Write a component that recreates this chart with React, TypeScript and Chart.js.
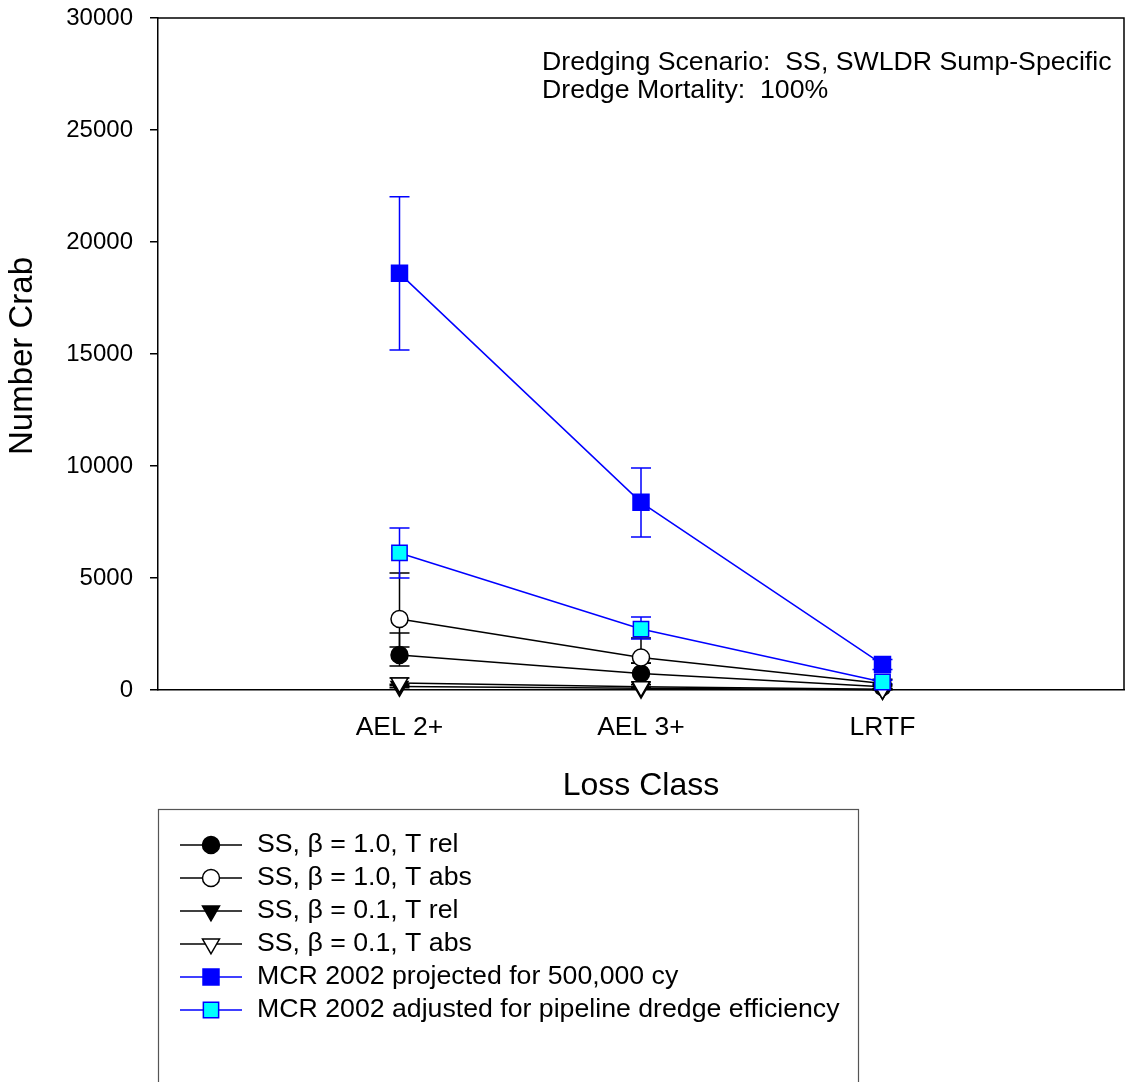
import React, { useEffect, useRef } from "react";
import { Chart, registerables } from "chart.js";
Chart.register(...registerables);

// ---- data ----
const categories = ["AEL 2+", "AEL 3+", "LRTF"];
const yTickValues = [0, 5000, 10000, 15000, 20000, 25000, 30000];
const seriesNames = [
  "SS, \u03B2 = 1.0, T rel",
  "SS, \u03B2 = 1.0, T abs",
  "SS, \u03B2 = 0.1, T rel",
  "SS, \u03B2 = 0.1, T abs",
  "MCR 2002 projected for 500,000 cy",
  "MCR 2002 adjusted for pipeline dredge efficiency",
];

const b10Rel = [1560, 740, 140];
const b10RelHi = [2545, 1190, 230];
const b10RelLo = [1071, 357, 70];

const b10Abs = [3170, 1450, 290];
const b10AbsHi = [5220, 2320, 480];
const b10AbsLo = [1920, 1205, 175];

const b01Rel = [156, 74, 14];
const b01RelHi = [255, 120, 23];
const b01RelLo = [105, 45, 9];

const b01Abs = [317, 145, 29];
const b01AbsHi = [536, 235, 48];
const b01AbsLo = [190, 90, 18];

const mcrProj = [18600, 8380, 1140];
const mcrProjHi = [22020, 9910, 1360];
const mcrProjLo = [15180, 6830, 920];

const mcrAdj = [6120, 2720, 357];
const mcrAdjHi = [7230, 3260, 440];
const mcrAdjLo = [5000, 2280, 275];

const annotationLines = [
  "Dredging Scenario:  SS, SWLDR Sump-Specific",
  "Dredge Mortality:  100%",
];
const xTitle = "Loss Class";
const yTitle = "Number Crab";

const FONT = "'Liberation Sans', Arial, Helvetica, sans-serif";
const BLUE = "#0000ff";
const CYAN = "#00ffff";

const toPts = (arr: number[]) => arr.map((v, i) => ({ x: i + 1, y: v }));

type Style = {
  pointStyle: string;
  rotation: number;
  radius: number;
  fill: string;
  stroke: string;
};

const styles: Style[] = [
  { pointStyle: "circle", rotation: 0, radius: 8.5, fill: "#000000", stroke: "#000000" },
  { pointStyle: "circle", rotation: 0, radius: 8.5, fill: "#ffffff", stroke: "#000000" },
  { pointStyle: "triangle", rotation: 180, radius: 9.8, fill: "#000000", stroke: "#000000" },
  { pointStyle: "triangle", rotation: 180, radius: 9.8, fill: "#ffffff", stroke: "#000000" },
  { pointStyle: "rect", rotation: 0, radius: 11.3, fill: BLUE, stroke: BLUE },
  { pointStyle: "rect", rotation: 0, radius: 10.8, fill: CYAN, stroke: BLUE },
];

const values = [b10Rel, b10Abs, b01Rel, b01Abs, mcrProj, mcrAdj];
const highs = [b10RelHi, b10AbsHi, b01RelHi, b01AbsHi, mcrProjHi, mcrAdjHi];
const lows = [b10RelLo, b10AbsLo, b01RelLo, b01AbsLo, mcrProjLo, mcrAdjLo];
const orders = [5, 4, 3, 2, 1, 0];

function drawMarker(ctx: CanvasRenderingContext2D, s: Style, r: number, x: number, y: number) {
  ctx.beginPath();
  if (s.pointStyle === "circle") {
    ctx.arc(x, y, r, 0, Math.PI * 2);
  } else if (s.pointStyle === "triangle") {
    for (let k = 0; k < 3; k++) {
      const ang = Math.PI + (k * 2 * Math.PI) / 3;
      const px = x + Math.sin(ang) * r;
      const py = y - Math.cos(ang) * r;
      if (k === 0) ctx.moveTo(px, py);
      else ctx.lineTo(px, py);
    }
    ctx.closePath();
  } else {
    const h = r * Math.SQRT1_2;
    ctx.rect(x - h, y - h, 2 * h, 2 * h);
  }
  ctx.fillStyle = s.fill;
  ctx.fill();
  ctx.strokeStyle = s.stroke;
  ctx.lineWidth = 1.5;
  ctx.stroke();
}

const errorBarPlugin = {
  id: "errorBars",
  beforeDatasetsDraw(chart: any) {
    const ctx = chart.ctx;
    const xs = chart.scales.x;
    const ys = chart.scales.y;
    ctx.save();
    for (let d = 0; d < values.length; d++) {
      ctx.strokeStyle = styles[d].stroke;
      ctx.lineWidth = 1.5;
      for (let i = 0; i < values[d].length; i++) {
        const x = xs.getPixelForValue(i + 1);
        const yh = ys.getPixelForValue(highs[d][i]);
        const yl = ys.getPixelForValue(lows[d][i]);
        ctx.beginPath();
        ctx.moveTo(x, yh);
        ctx.lineTo(x, yl);
        ctx.moveTo(x - 10, yh);
        ctx.lineTo(x + 10, yh);
        ctx.moveTo(x - 10, yl);
        ctx.lineTo(x + 10, yl);
        ctx.stroke();
      }
    }
    ctx.restore();
  },
};

const decorPlugin = {
  id: "decor",
  afterDraw(chart: any) {
    const ctx = chart.ctx;
    const a = chart.chartArea;
    ctx.save();
    // frame top & right
    ctx.strokeStyle = "#000";
    ctx.lineWidth = 1.5;
    ctx.beginPath();
    ctx.moveTo(a.left, a.top);
    ctx.lineTo(a.right, a.top);
    ctx.lineTo(a.right, a.bottom);
    ctx.stroke();

    // annotation
    ctx.fillStyle = "#000";
    ctx.font = `26.7px ${FONT}`;
    ctx.textAlign = "left";
    ctx.textBaseline = "middle";
    annotationLines.forEach((t, i) => ctx.fillText(t, 542, 63 + i * 28));

    // axis titles
    ctx.font = `32px ${FONT}`;
    ctx.textAlign = "center";
    ctx.fillText(xTitle, 641, 786);
    ctx.save();
    ctx.translate(23, 356);
    ctx.rotate(-Math.PI / 2);
    ctx.font = `33px ${FONT}`;
    ctx.fillText(yTitle, 0, 0);
    ctx.restore();

    // legend box
    ctx.strokeStyle = "#555";
    ctx.lineWidth = 1.2;
    ctx.strokeRect(158.5, 809.5, 700, 300);
    ctx.font = `26.7px ${FONT}`;
    ctx.textAlign = "left";
    ctx.textBaseline = "middle";
    for (let i = 0; i < seriesNames.length; i++) {
      const y = 845 + i * 33;
      const s = styles[i];
      ctx.strokeStyle = s.stroke;
      ctx.lineWidth = 1.5;
      ctx.beginPath();
      ctx.moveTo(180, y);
      ctx.lineTo(242, y);
      ctx.stroke();
      drawMarker(ctx, s, s.radius, 211, y);
      ctx.fillStyle = "#000";
      ctx.fillText(seriesNames[i], 257, y);
    }
    ctx.restore();
  },
};

export default function App() {
  const ref = useRef<HTMLCanvasElement | null>(null);
  useEffect(() => {
    document.body.style.margin = "0";
    if (!ref.current) return;
    const datasets = values.map((v, d) => ({
      label: seriesNames[d],
      data: toPts(v),
      borderColor: styles[d].stroke,
      borderWidth: 1.5,
      backgroundColor: styles[d].fill,
      pointBackgroundColor: styles[d].fill,
      pointBorderColor: styles[d].stroke,
      pointBorderWidth: 1.5,
      pointStyle: styles[d].pointStyle,
      pointRotation: styles[d].rotation,
      pointRadius: styles[d].radius,
      pointHoverRadius: styles[d].radius,
      tension: 0,
      fill: false,
      clip: false,
      order: orders[d],
    }));
    const chart = new Chart(ref.current, {
      type: "line",
      data: { datasets: datasets as any },
      options: {
        animation: false,
        responsive: false,
        events: [],
        layout: { autoPadding: false, padding: { top: 18, right: 1, left: 0, bottom: 0 } },
        plugins: { legend: { display: false }, tooltip: { enabled: false } },
        scales: {
          x: {
            type: "linear",
            min: 0,
            max: 4,
            afterFit: (s: any) => {
              s.height = 392;
              s.paddingLeft = 0;
              s.paddingRight = 0;
              s.paddingTop = 0;
              s.paddingBottom = 0;
            },
            afterBuildTicks: (s: any) => {
              s.ticks = categories.map((_, i) => ({ value: i + 1 }));
            },
            ticks: {
              autoSkip: false,
              maxRotation: 0,
              color: "#000",
              font: { family: FONT, size: 26.5 },
              padding: 22,
              callback: (v: any) => categories[Number(v) - 1] ?? "",
            },
            grid: { display: false, drawTicks: false },
            border: { display: true, color: "#000", width: 1.5 },
          },
          y: {
            type: "linear",
            min: 0,
            max: 30000,
            afterFit: (s: any) => {
              s.width = 158;
              s.paddingLeft = 0;
              s.paddingRight = 0;
              s.paddingTop = 0;
              s.paddingBottom = 0;
            },
            afterBuildTicks: (s: any) => {
              s.ticks = yTickValues.map((v) => ({ value: v }));
            },
            ticks: {
              color: "#000",
              font: { family: FONT, size: 24 },
              padding: 17,
              callback: (v: any) => String(v),
            },
            grid: {
              drawOnChartArea: false,
              drawTicks: true,
              tickLength: 8,
              color: "#000",
              lineWidth: 1.5,
            },
            border: { display: true, color: "#000", width: 1.5 },
          },
        },
      },
      plugins: [errorBarPlugin, decorPlugin],
    } as any);
    return () => chart.destroy();
  }, []);
  return <canvas ref={ref} width={1125} height={1082} style={{ display: "block" }} />;
}
